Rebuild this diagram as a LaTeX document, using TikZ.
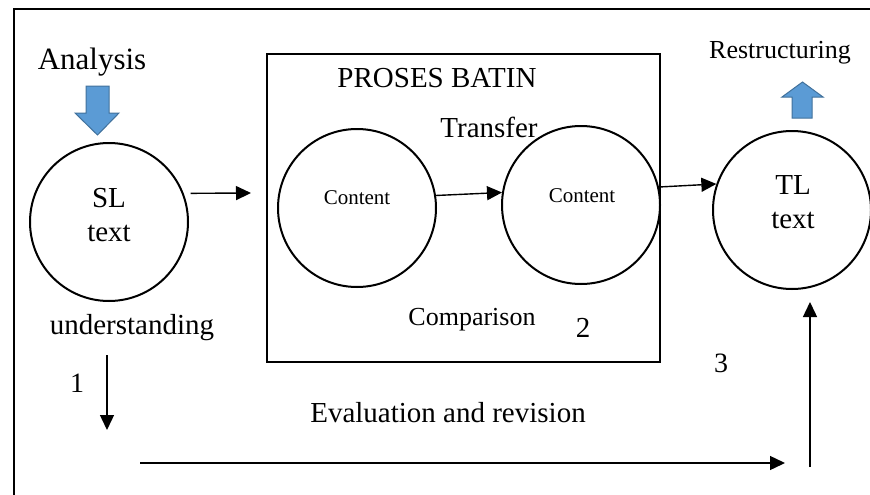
\documentclass[tikz,border=0pt]{standalone}
\usepackage{fontspec}
\setmainfont{Liberation Serif}
\usetikzlibrary{arrows.meta}
\definecolor{arrowblue}{RGB}{91,155,213}
\definecolor{arrowedge}{RGB}{65,113,156}

\begin{document}
\begin{tikzpicture}[x=1pt, y=-1pt,
    ring/.style={draw, circle, line width=2pt, minimum size=158pt, inner sep=0pt},
    flow/.style={-{Triangle[length=15pt,width=14pt]}, line width=1.4pt},
    big/.style={font=\fontsize{29}{34}\selectfont, inner sep=0pt, align=center},
    small/.style={font=\fontsize{21}{25}\selectfont, inner sep=0pt},
    mid/.style={font=\fontsize{26}{30}\selectfont, inner sep=0pt},
    block/.style={fill=arrowblue, draw=arrowedge, line width=1pt}]
        \useasboundingbox (0,0) rectangle (870,495);
        \clip (0,0) rectangle (870,495);
        \draw[line width=2pt] (14,9) rectangle (890,515);

        \node[ring] (sl) at (109,222) {};
        \node[ring] (c1) at (357,208) {};
        \node[ring] (c2) at (581,205) {};
        \node[ring] (tl) at (792,210) {};
        \node[draw, line width=2pt, minimum width=393pt, minimum height=308pt] (box) at (463.5,208) {};

        \node[big] (slt) at (109,215) {SL\\text};
        \node[big] (tlt) at (793,202) {TL\\text};
        \node[small] (ct1) at (357,198) {Content};
        \node[small] (ct2) at (582,196) {Content};
        \node[big] (proses) at (437,78) {PROSES BATIN};
        \node[big] (transfer) at (489,127) {Transfer};
        \node[mid] (comp) at (472,320) {Comparison};
        \node[big] (n2) at (583,328) {2};
        \node[big, font=\fontsize{31}{36}\selectfont] (ana) at (92,62) {Analysis};
        \node[mid] (restr) at (780,53) {Restructuring};
        \node[big] (und) at (132,328) {understanding};
        \node[big, font=\fontsize{28}{32}\selectfont] (n1) at (77,383) {1};
        \node[big, font=\fontsize{28}{32}\selectfont] (n3) at (721,363) {3};
        \node[big] (eval) at (448,413) {Evaluation and revision};

        % block arrows
        \draw[block] (86,86) -- (109,86) -- (109,113) -- (119,113) -- (97.5,135) -- (75,113) -- (86,113) -- cycle;
        \draw[block] (792,118) -- (812,118) -- (812,97) -- (823,97) -- (802.5,82) -- (782,97) -- (792,97) -- cycle;

        \draw[flow] ([xshift=7pt]sl.21) -- ([xshift=-15pt,yshift=15pt]box.west);
        \draw[flow] (c1.9) -- (c2.171);
        \draw[flow] (c2.13) -- (tl.161);

        \coordinate (d1) at (107,355);
        \coordinate (d2) at (107,430);
        \coordinate (h1) at (140,463);
        \coordinate (h2) at (785,463);
        \coordinate (u1) at (810,467);
        \coordinate (u2) at (810,302);
        \draw[flow] (d1) -- (d2);
        \draw[flow] (h1) -- (h2);
        \draw[flow] (u1) -- (u2);
    \end{tikzpicture}
\end{document}
